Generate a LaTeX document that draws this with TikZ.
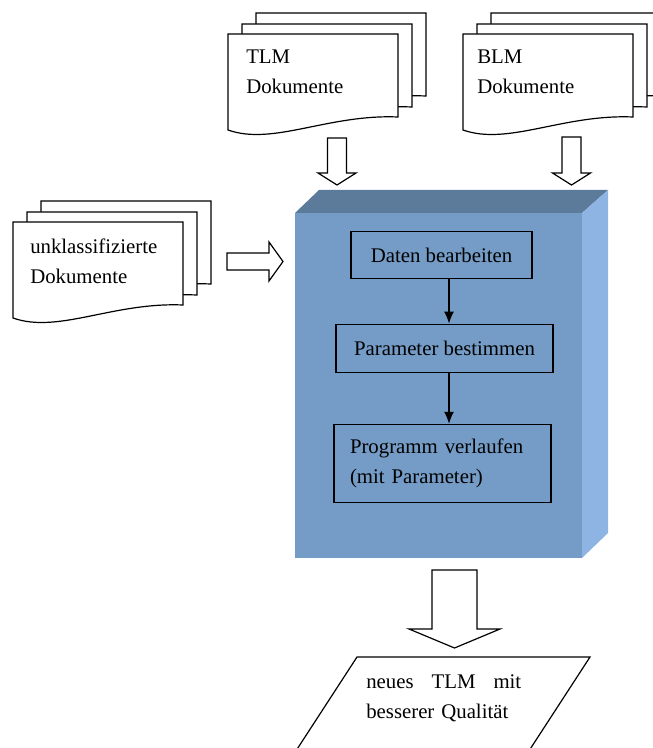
\documentclass[tikz,border=0pt]{standalone}
\usepackage{fontspec}
\setmainfont{Liberation Serif}
\usepackage{tikz}
\usetikzlibrary{positioning,arrows.meta}
\definecolor{frontblue}{RGB}{116,156,198}
\definecolor{topblue}{RGB}{92,123,155}
\definecolor{sideblue}{RGB}{141,180,226}

\tikzset{
  pics/docpage/.style={code={
    \draw[line width=0.9pt, fill=white] (0,0) -- (170,0) -- (170,83) .. controls (100,80) and (45,112) .. (0,96) -- cycle;}},
  pics/docstack/.style={code={
    \pic at (28,-21) {docpage};
    \pic at (14,-10) {docpage};
    \pic at (0,0) {docpage};}},
  pics/fatarrow/.style args={#1/#2/#3/#4}{code={
    \draw[line width=0.9pt, fill=white] (-#1,0) -- (#1,0) -- (#1,#3) -- (#2,#3) -- (0,#4) -- (-#2,#3) -- (-#1,#3) -- cycle;}},
  doctext/.style={anchor=north west, inner sep=0pt, align=left},
  stepbox/.style={draw, line width=0.9pt, inner sep=0pt, align=center},
  flow/.style={line width=0.9pt, -{Latex[length=9pt,width=7.5pt]}}
}

\begin{document}
\begin{tikzpicture}[x=0.75pt, y=-0.75pt, font=\fontsize{15.6}{22.5}\selectfont]
\useasboundingbox (0,0) rectangle (652,748);

% input documents
\pic at (228,34) {docstack};
\node[doctext] (tlm) at (246,50) {TLM\\Dokumente};
\pic at (463,34) {docstack};
\node[doctext] (blm) at (477,50) {BLM\\Dokumente};
\pic at (13,222) {docstack};
\node[doctext] (unkl) at (30,239) {unklassifizierte\\Dokumente};

% block
\fill[frontblue] (295,213) rectangle (582,558);
\fill[topblue] (295,213) -- (319,190) -- (608,190) -- (582,213) -- cycle;
\fill[sideblue] (582,213) -- (608,190) -- (608,533) -- (582,558) -- cycle;

\pic at (337,138) {fatarrow=9.5/19/35/47};
\pic at (571.5,137) {fatarrow=9.5/19/36/48};
\pic[rotate=90] at (227,261.5) {fatarrow=8.5/19.5/42/56};

% steps
\node[stepbox, minimum width=135.75pt, minimum height=35.25pt] (daten) at (441.5,255.2) {Daten bearbeiten};
\node[stepbox, minimum width=162.75pt, minimum height=36pt, below=33.2pt of daten, xshift=2.25pt] (param) {Parameter bestimmen};
\node[stepbox, align=left, text width=138.75pt, inner xsep=12pt, minimum height=58.5pt, below=38.25pt of param, xshift=-1.5pt] (prog) {Programm verlaufen\\(mit Parameter)};
\coordinate (axis) at (449,0);
\draw[flow] (daten.south -| axis) -- (param.north -| axis);
\draw[flow] (param.south -| axis) -- (prog.north -| axis);

% result
\pic at (454.5,570) {fatarrow=22.5/45.5/59/78};
\draw[line width=0.9pt] (357,657) -- (590,657) -- (497,800) -- (264,800) -- cycle;
\node[doctext, text width=116.25pt] (neu) at (366,674) {neues\hfill TLM\hfill mit\\besserer Qualität};
\end{tikzpicture}
\end{document}
